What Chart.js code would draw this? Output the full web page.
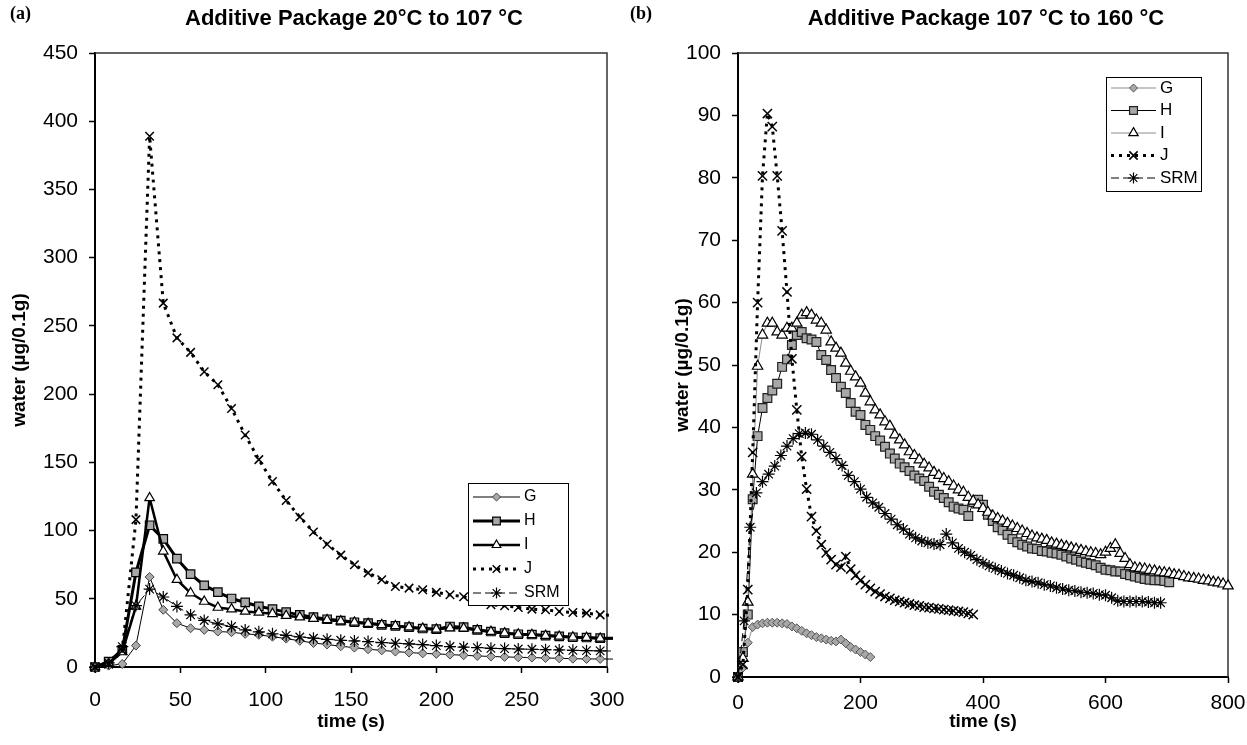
<!DOCTYPE html>
<html>
<head>
<meta charset="utf-8">
<title>Additive Package water release</title>
<script src="https://cdn.jsdelivr.net/npm/chart.js@4.4.1/dist/chart.umd.min.js"></script>
<style>
  body { margin: 0; background: #fff; }
  #page { position: relative; width: 1247px; height: 745px; overflow: hidden; }
  canvas { position: absolute; top: 0; }
  #chartA { left: 0; }
  #chartB { left: 622px; }
  .panel { position: absolute; top: 3px; font: bold 18px 'Liberation Serif', 'Times New Roman', serif; }
  .heading { position: absolute; top: 5px; width: 600px; text-align: center; font: bold 22px 'Liberation Sans', Arial, sans-serif; }
</style>
</head>
<body>
<div id="page">
  <canvas id="chartA" width="640" height="745"></canvas>
  <canvas id="chartB" width="625" height="745"></canvas>
  <div class="panel" style="left:10px">(a)</div>
  <div class="heading" style="left:54px">Additive Package 20°C to 107 °C</div>
  <div class="panel" style="left:630px">(b)</div>
  <div class="heading" style="left:686px">Additive Package 107 °C to 160 °C</div>
</div>
<script>
'use strict';

//seconds between readings
const stepA = 8;
const stepB = 8;
const stepSrmB = 10;

//panel (a): 20 °C to 107 °C
const seriesNames = ['G', 'H', 'I', 'J', 'SRM'];
const xTicksA = [0, 300, 50];
const yTicksA = [0, 450, 50];
const gA = [0, 1, 2.2, 15.7, 66, 41.9, 32.1, 28.4, 27.2, 26.0, 25.5, 24.3, 23.6, 22.2, 20.8, 19.2, 17.6, 16.5, 15.2, 14.2,
  13.0, 12.2, 11.3, 10.6, 10.0, 9.6, 9.1, 8.6, 8.1, 7.7, 7.4, 7.1, 6.9, 6.6, 6.4, 6.1, 5.9, 5.9, 5.8];
const hA = [0, 3.9, 12.5, 69.4, 103.9, 93.9, 79.4, 68.1, 59.8, 54.9, 50.2, 47.3, 44.5, 42.4, 40.2, 38.2, 36.5, 35.0, 34.0, 32.8,
  32.1, 30.9, 30.1, 29.2, 28.2, 27.7, 29.7, 29.2, 27.2, 26.0, 24.8, 24.0, 23.8, 23.0, 22.5, 21.8, 21.6, 21.1, 21.0];
const iA = [0, 2.5, 11, 44.4, 123.9, 84.8, 64.0, 54.2, 48.0, 43.6, 42.4, 40.7, 40.0, 39.0, 37.6, 36.5, 35.5, 34.5, 33.6, 32.7,
  31.8, 30.9, 30.1, 29.2, 28.3, 27.6, 28.5, 28.4, 27.0, 25.9, 24.8, 24.0, 23.6, 23.0, 22.4, 21.8, 21.5, 21.0, 20.9];
const jA = [0, 2, 12, 108, 389, 266.7, 241.2, 230.6, 216.4, 206.9, 189.5, 170, 152, 136, 122, 110, 99, 90, 82, 75,
  69, 64, 59, 57.8, 56.6, 54.7, 52.9, 51.5, 48.5, 45.6, 44.9, 43.6, 42.4, 41.9, 40.7, 40.0, 39.5, 38.2, 37.8];
const srmA = [0, 3, 14.9, 45, 57.1, 51.3, 44.4, 38.2, 34.1, 31.6, 29.7, 27.2, 25.8, 24.3, 23.2, 22.0, 21.1, 20.3, 19.6, 19.1,
  18.6, 17.9, 17.4, 16.9, 16.4, 15.7, 15.0, 14.5, 14.2, 13.7, 13.5, 13.2, 13.0, 12.7, 12.5, 12.2, 12.0, 11.8, 11.7];

//panel (b): 107 °C to 160 °C
const xTicksB = [0, 800, 200];
const yTicksB = [0, 100, 10];
const gB = [0, 1.5, 5.5, 8.0, 8.4, 8.6, 8.7, 8.7, 8.7, 8.6, 8.5, 8.1, 7.8, 7.4, 7.0, 6.7, 6.4, 6.2, 6.0, 5.8,
  5.7, 6.0, 5.4, 4.8, 4.4, 4.0, 3.6, 3.2];
const hB = [0, 4, 10, 28.5, 38.6, 43.1, 44.7, 45.9, 47.0, 49.7, 50.9, 53.2, 54.8, 55.3, 54.3, 54.1, 53.7, 51.6, 50.8, 49.2,
  47.9, 46.5, 45.5, 43.9, 42.5, 42.0, 40.4, 39.6, 38.6, 37.9, 36.9, 35.8, 35.0, 34.2, 33.6, 33.0, 32.3, 31.8, 31.4, 30.5,
  29.7, 29.2, 28.7, 28.0, 27.3, 27.0, 26.8, 25.8, 28.0, 28.4, 27.6, 26.0, 25.0, 24.0, 23.5, 22.8, 22.1, 21.6, 21.2, 20.9,
  20.6, 20.5, 20.2, 20.1, 19.9, 19.8, 19.6, 19.3, 19.0, 18.8, 18.5, 18.3, 18.1, 17.9, 17.5, 17.2, 17.1, 16.9, 16.9, 16.5,
  16.3, 16.1, 15.9, 15.7, 15.6, 15.5, 15.5, 15.4, 15.2];
const iB = [0, 3, 12, 32.5, 49.8, 54.8, 56.7, 56.7, 55.3, 54.8, 55.9, 55.9, 56.7, 58.0, 58.4, 58.0, 57.2, 56.7, 55.6, 53.7,
  52.7, 51.9, 50.3, 49.0, 48.1, 47.1, 45.5, 44.1, 42.8, 42.0, 40.9, 40.2, 38.8, 38.0, 37.2, 36.1, 35.5, 34.8, 34.1, 33.5,
  32.8, 32.3, 31.8, 31.3, 30.6, 30.0, 29.6, 28.8, 28.2, 27.6, 27.0, 26.4, 25.8, 25.4, 25.0, 24.6, 24.2, 23.8, 23.4, 23.0,
  22.6, 22.3, 22.1, 21.9, 21.5, 21.3, 21.1, 20.9, 20.7, 20.5, 20.3, 20.1, 19.9, 19.8, 19.6, 20.0, 20.6, 21.2, 19.8, 19.0,
  18.0, 17.5, 17.4, 17.3, 17.1, 17.0, 16.8, 16.7, 16.6, 16.4, 16.3, 16.1, 15.9, 15.8, 15.7, 15.5, 15.4, 15.2, 15.1, 14.9,
  14.6, 14.3];
const jB = [0, 2, 14, 36, 60, 80.3, 90.3, 88.2, 80.3, 71.5, 61.7, 51.0, 42.8, 35.3, 30.1, 25.7, 23.4, 21.2, 19.9, 18.8,
  18.0, 17.6, 19.3, 17.3, 16.3, 15.5, 14.8, 14.2, 13.7, 13.3, 12.9, 12.6, 12.3, 12.1, 11.9, 11.7, 11.5, 11.4, 11.2, 11.1,
  11.0, 10.9, 10.8, 10.7, 10.6, 10.5, 10.4, 10.2, 10.0];
const srmB = [0, 9, 24, 29.5, 31.3, 32.5, 33.8, 35.5, 37.0, 38.2, 39.0, 39.1, 38.9, 38.0, 37.0, 36.0, 35.0, 33.9, 32.3, 31.3,
  30.1, 28.8, 27.9, 27.2, 26.2, 25.3, 24.4, 23.7, 22.9, 22.3, 21.8, 21.5, 21.3, 21.2, 22.9, 21.5, 20.6, 20.0, 19.5, 18.8,
  18.3, 17.8, 17.4, 17.0, 16.6, 16.3, 15.9, 15.5, 15.3, 15.1, 14.8, 14.6, 14.3, 14.1, 13.9, 13.8, 13.6, 13.5, 13.4, 13.2,
  13.1, 12.7, 12.2, 12.1, 12.1, 12.1, 12.1, 12.0, 11.9, 11.9];

const sansFamily = "'Liberation Sans', Arial, sans-serif";

Chart.defaults.color = '#000';
Chart.defaults.font.family = sansFamily;

//helpers

//turn readings into {x, y} points at a fixed sampling step
function timed(values, step) {
  return values.map((v, i) => ({x: i * step, y: v}));
}

//one line series; markers past the right edge of the axis are hidden
function series(index, values, step, xMax, look) {
  const size = look.markerSize;
  return Object.assign({
    label: seriesNames[index],
    data: timed(values, step),
    order: seriesNames.length - 1 - index,
    tension: 0,
    fill: false,
    clip: {left: 12, top: 12, right: 6, bottom: 12},
    pointRadius: ctx => (ctx.raw && ctx.raw.x > xMax) ? 0 : size,
    pointHoverRadius: 0,
    pointBorderColor: '#000',
    pointBorderWidth: 1.2,
    pointBackgroundColor: '#fff',
    borderColor: '#000',
    borderWidth: 1,
  }, look);
}

//top and right edges of the plot area
const plotFrame = {
  id: 'plotFrame',
  beforeDatasetsDraw(chart, args, opts) {
    const ctx = chart.ctx;
    const a = chart.chartArea;
    ctx.save();
    ctx.strokeStyle = opts.color;
    ctx.lineWidth = opts.width;
    ctx.beginPath();
    ctx.moveTo(a.left, a.top);
    ctx.lineTo(a.right, a.top);
    ctx.lineTo(a.right, a.bottom);
    ctx.stroke();
    ctx.restore();
  }
};

//boxed legend showing line style with marker in the middle
const boxLegend = {
  id: 'boxLegend',
  afterDatasetsDraw(chart, args, opts) {
    const ctx = chart.ctx;
    ctx.save();
    ctx.fillStyle = '#fff';
    ctx.fillRect(opts.x, opts.y, opts.width, opts.height);
    ctx.strokeStyle = '#000';
    ctx.lineWidth = 1;
    ctx.strokeRect(opts.x + 0.5, opts.y + 0.5, opts.width, opts.height);
    chart.data.datasets.forEach((ds, i) => {
      const rowY = opts.y + opts.firstRow + i * opts.rowGap;
      const x0 = opts.x + opts.lineStart;
      const x1 = x0 + opts.lineLength;
      ctx.beginPath();
      ctx.setLineDash(ds.borderDash || []);
      ctx.lineWidth = ds.borderWidth;
      ctx.strokeStyle = ds.borderColor;
      ctx.moveTo(x0, rowY);
      ctx.lineTo(x1, rowY);
      ctx.stroke();
      ctx.setLineDash([]);
      ctx.fillStyle = ds.pointBackgroundColor;
      ctx.strokeStyle = ds.pointBorderColor;
      ctx.lineWidth = ds.pointBorderWidth;
      Chart.helpers.drawPoint(ctx, {
        pointStyle: ds.pointStyle,
        radius: ds.markerSize * 0.9,
        rotation: 0,
        borderWidth: ds.pointBorderWidth
      }, (x0 + x1) / 2, rowY);
      ctx.fillStyle = '#000';
      ctx.font = opts.fontSize + 'px ' + sansFamily;
      ctx.textBaseline = 'middle';
      ctx.textAlign = 'left';
      ctx.fillText(ds.label, x1 + 4, rowY);
    });
    ctx.restore();
  }
};

//axis pair with fixed plot area edges
function axes(xTicks, yTicks, box) {
  const tickFont = {family: sansFamily, size: 21};
  const titleFont = {family: sansFamily, size: 19, weight: 'bold'};
  const tickGrid = {display: true, drawOnChartArea: false, drawTicks: true, tickLength: 6, tickWidth: 1.5, tickColor: '#000'};
  return {
    x: {
      type: 'linear',
      min: xTicks[0],
      max: xTicks[1],
      ticks: {stepSize: xTicks[2], font: tickFont, color: '#000', padding: box.xTickPad, maxRotation: 0},
      grid: tickGrid,
      border: {display: true, color: '#000', width: 2},
      title: {display: true, text: 'time (s)', font: titleFont, color: '#000', padding: {top: 0, bottom: box.xTitlePad}},
      afterFit(scale) {
        scale.height = box.xHeight;
        scale.paddingLeft = 0;
        scale.paddingRight = 0;
      }
    },
    y: {
      type: 'linear',
      min: yTicks[0],
      max: yTicks[1],
      ticks: {stepSize: yTicks[2], font: tickFont, color: '#000', padding: box.yTickPad},
      grid: tickGrid,
      border: {display: true, color: '#000', width: 2},
      title: {display: true, text: 'water (µg/0.1g)', font: titleFont, color: '#000', padding: {top: box.yTitlePad, bottom: 0}},
      afterFit(scale) {
        scale.width = box.yWidth;
        scale.paddingTop = 0;
        scale.paddingBottom = 0;
      }
    }
  };
}

function makeChart(canvasId, datasets, xTicks, yTicks, box, legendBox) {
  return new Chart(document.getElementById(canvasId), {
    type: 'line',
    data: {datasets: datasets},
    options: {
      responsive: false,
      animation: false,
      events: [],
      layout: {padding: {left: 0, top: box.top, right: box.right, bottom: 0}},
      scales: axes(xTicks, yTicks, box),
      plugins: {
        legend: {display: false},
        tooltip: {enabled: false},
        plotFrame: {color: '#333', width: 1.5},
        boxLegend: legendBox
      }
    },
    plugins: [plotFrame, boxLegend]
  });
}

//main

const xMaxA = xTicksA[1];
const datasetsA = [
  series(0, gA, stepA, xMaxA, {borderWidth: 1, pointStyle: 'rectRot', markerSize: 4.5,
    pointBackgroundColor: '#a8a8a8', pointBorderColor: '#444', pointBorderWidth: 1}),
  series(1, hA, stepA, xMaxA, {borderWidth: 3, pointStyle: 'rect', markerSize: 6,
    pointBackgroundColor: '#a8a8a8'}),
  series(2, iA, stepA, xMaxA, {borderWidth: 2.5, pointStyle: 'triangle', markerSize: 5.5}),
  series(3, jA, stepA, xMaxA, {borderWidth: 3, borderDash: [3, 5], pointStyle: 'crossRot', markerSize: 6,
    pointBorderWidth: 1.5}),
  series(4, srmA, stepA, xMaxA, {borderWidth: 1, borderDash: [8, 4], pointStyle: 'star', markerSize: 6})
];

const xMaxB = xTicksB[1];
const datasetsB = [
  series(0, gB, stepB, xMaxB, {borderColor: '#8c8c8c', pointStyle: 'rectRot', markerSize: 4.5,
    pointBackgroundColor: '#a8a8a8', pointBorderColor: '#555', pointBorderWidth: 1}),
  series(1, hB, stepB, xMaxB, {pointStyle: 'rect', markerSize: 6.2, pointBackgroundColor: '#a8a8a8',
    pointBorderColor: '#222'}),
  series(2, iB, stepB, xMaxB, {borderColor: '#8c8c8c', pointStyle: 'triangle', markerSize: 6}),
  series(3, jB, stepB, xMaxB, {borderWidth: 3, borderDash: [3, 5], pointStyle: 'crossRot', markerSize: 6.5,
    pointBorderWidth: 1.5}),
  series(4, srmB, stepSrmB, xMaxB, {borderDash: [8, 4], pointStyle: 'star', markerSize: 6})
];

makeChart('chartA', datasetsA, xTicksA, yTicksA,
  {top: 53, right: 33, xHeight: 78, yWidth: 95, xTickPad: 15, yTickPad: 11, xTitlePad: 12, yTitlePad: 8},
  {x: 468, y: 483, width: 100, height: 122, firstRow: 14, rowGap: 24, lineStart: 5, lineLength: 47, fontSize: 16});

makeChart('chartB', datasetsB, xTicksB, yTicksB,
  {top: 53, right: 19, xHeight: 68, yWidth: 116, xTickPad: 8, yTickPad: 11, xTitlePad: 12, yTitlePad: 49},
  {x: 484, y: 77, width: 95, height: 114, firstRow: 11, rowGap: 22.5, lineStart: 5, lineLength: 45, fontSize: 17});
</script>
</body>
</html>
